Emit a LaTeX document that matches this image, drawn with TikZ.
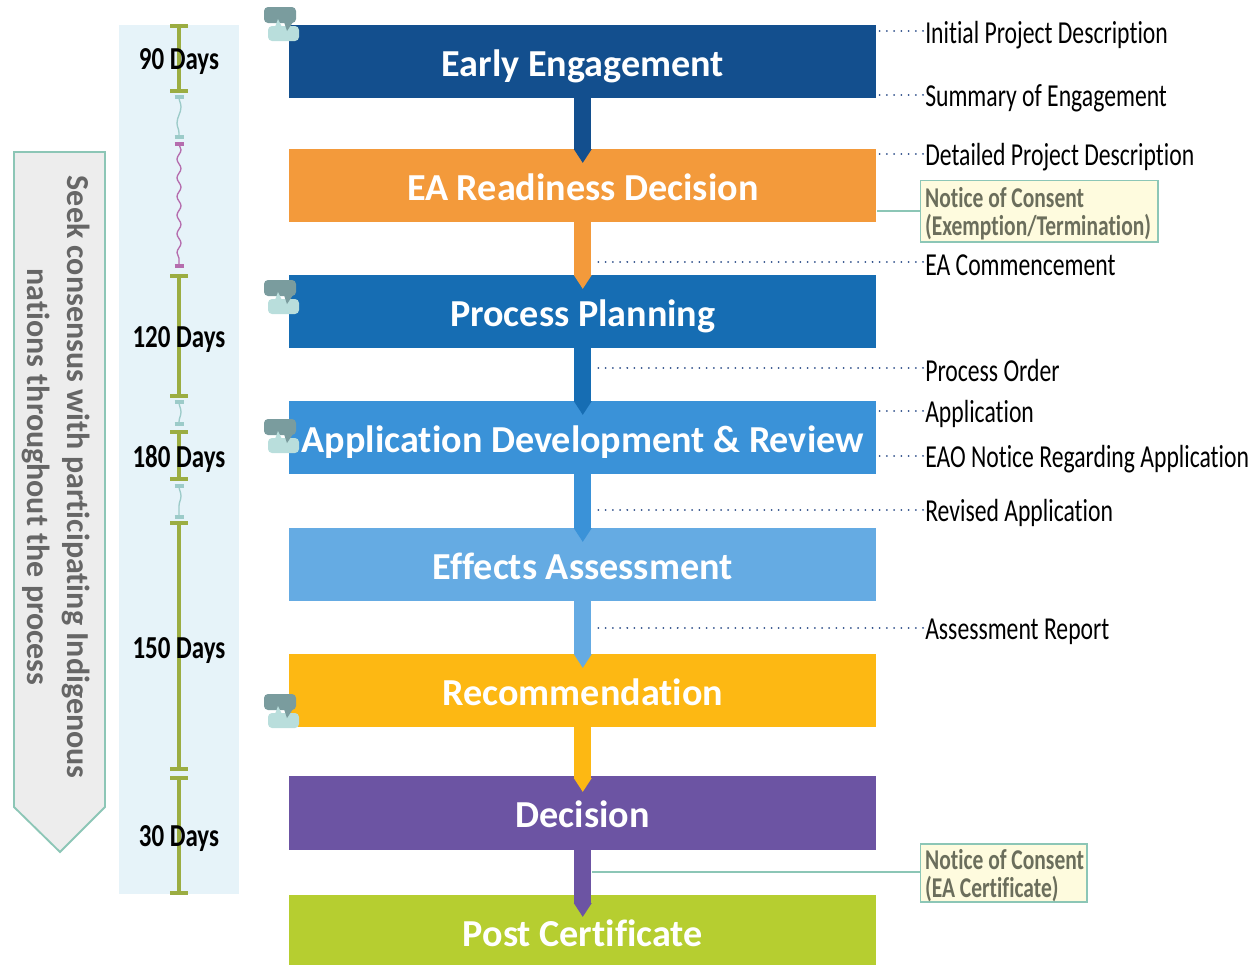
\documentclass[tikz,border=0pt]{standalone}
\usepackage{fontspec}
\setmainfont{Carlito}
\newfontface\labfont[FakeStretch=0.74,Ligatures=NoCommon]{Carlito}
\newfontface\labbold[FakeStretch=0.75,Ligatures=NoCommon]{Carlito Bold}
\newfontface\daysfont[FakeStretch=0.78]{Carlito Bold}
\newfontface\titlefont[Ligatures=NoCommon]{Carlito Bold}
\usetikzlibrary{arrows.meta,decorations.pathmorphing,calc}
\definecolor{cEarly}{HTML}{134F8E}
\definecolor{cReady}{HTML}{F39A3B}
\definecolor{cPlan}{HTML}{166DB3}
\definecolor{cApp}{HTML}{3A92D8}
\definecolor{cEff}{HTML}{65ABE3}
\definecolor{cRec}{HTML}{FDB813}
\definecolor{cDec}{HTML}{6C54A3}
\definecolor{cPost}{HTML}{B6CE30}
\definecolor{cPanel}{HTML}{E6F3F9}
\definecolor{cGreen}{HTML}{9BAD42}
\definecolor{cTeal}{HTML}{9CCBC9}
\definecolor{cPurple}{HTML}{B56DAE}
\definecolor{cEdge}{HTML}{8CC6B6}
\definecolor{cDot}{HTML}{2F4F8A}
\definecolor{cNote}{HTML}{FEFBDE}
\definecolor{cNoteText}{HTML}{6B6E5C}
\definecolor{cBubD}{HTML}{7A9C9E}
\definecolor{cBubL}{HTML}{B9DEDC}
\tikzset{
  x=0.75pt,y=-0.75pt,
  stage/.style={fill=#1,minimum width=440.25pt,inner sep=0pt,anchor=north west,text=white,
    text height=22pt,text depth=0.2pt,font=\titlefont\fontsize{28.6}{30}\selectfont},
  flow/.style={draw=#1,line width=12.75pt,-{Triangle[length=10.5pt,width=12.75pt]}},
  lab/.style={anchor=west,inner sep=0pt,text=black,font=\labfont\fontsize{24}{26}\selectfont},
  dots/.style={draw=cDot,line width=1.5pt,line cap=round,dash pattern=on 0.01pt off 5.4pt},
  note/.style={draw=cEdge,line width=1.4pt,fill=cNote,anchor=north west,inner sep=0pt,text=cNoteText,
    align=left,font=\labbold\fontsize{21.5}{21}\selectfont},
  noteline/.style={draw=cEdge,line width=1.4pt},
  span/.style={draw=cGreen,line width=3pt},
  capg/.style={draw=cGreen,line width=3pt},
  days/.style={inner sep=0pt,text=black,font=\daysfont\fontsize{24}{26}\selectfont},
  wave/.style={draw=#1,line width=1pt,decorate,decoration={snake,amplitude=1.5pt,segment length=14pt}},
  wavelong/.style={draw=#1,line width=1pt,decorate,decoration={snake,amplitude=1.5pt,segment length=24pt}},
  wcap/.style={draw=#1,line width=2.6pt},
}
\newcommand{\gspan}[2]{%
  \draw[span] (179,#1) -- (179,#2);
  \draw[capg] (170,#1) -- (188,#1);
  \draw[capg] (170,#2) -- (188,#2);}
\newcommand{\wspan}[4]{%
  \draw[#4=#3] (179,#1) -- (179,#2);
  \draw[wcap=#3] (174.5,#1) -- (183.5,#1);
  \draw[wcap=#3] (174.5,#2) -- (183.5,#2);}
\newcommand{\bubbles}[2]{%
  \fill[cBubL,rounded corners=3pt] (#1+3,#2+18) rectangle (#1+34,#2+33);
  \fill[cBubD,rounded corners=3pt] (#1-1,#2-1) rectangle (#1+31,#2+15);
  \fill[cBubD] (#1+19,#2+14) -- (#1+22,#2+23) -- (#1+28,#2+14) -- cycle;
  \fill[cBubL] (#1+10,#2+19) -- (#1+13,#2+11) -- (#1+17,#2+19) -- cycle;}
\begin{document}
\begin{tikzpicture}
\useasboundingbox (0,0) rectangle (1258,965);
% indigenous consensus chevron
\draw[draw=cEdge,line width=1.4pt,fill=black!7] (14,152) -- (105,152) -- (105,807) -- (60,852) -- (14,807) -- cycle;
\node[rotate=-90,inner sep=0pt,align=center,text=black!60,font=\titlefont\fontsize{24}{29.5}\selectfont] (seek) at (56,477)
  {Seek consensus with participating Indigenous\\nations throughout the process};
% timeline
\fill[cPanel] (119,25) rectangle (239,894);
\gspan{26}{91}
\wspan{97}{137}{cTeal}{wavelong}
\wspan{144}{266}{cPurple}{wave}
\gspan{276}{396}
\wspan{402}{424}{cTeal}{wavelong}
\gspan{432}{479}
\wspan{486}{517}{cTeal}{wavelong}
\gspan{523}{769}
\gspan{778}{893}
\node[days] (d90) at (179,62) {90 Days};
\node[days] (d120) at (179,340) {120 Days};
\node[days] (d180) at (179,459) {180 Days};
\node[days] (d150) at (179,651) {150 Days};
\node[days] (d30) at (179,839) {30 Days};
% stages
\node[stage=cEarly,minimum height=54.75pt] (early) at (289,25) {Early Engagement};
\node[stage=cReady,minimum height=54.75pt] (ready) at (289,149) {EA Readiness Decision};
\node[stage=cPlan,minimum height=54.75pt] (plan) at (289,275) {Process Planning};
\node[stage=cApp,minimum height=54.75pt] (app) at (289,401) {Application Development \& Review};
\node[stage=cEff,minimum height=54.75pt] (eff) at (289,528) {Effects Assessment};
\node[stage=cRec,minimum height=54.75pt] (rec) at (289,654) {Recommendation};
\node[stage=cDec,minimum height=55.5pt] (dec) at (289,776) {Decision};
\node[stage=cPost,minimum height=52.5pt,text height=24pt] (post) at (289,895) {Post Certificate};
% flow connectors
\draw[flow=cEarly] ($(early.south)+(0,-2)$) -- ($(ready.north)+(0,14)$);
\draw[flow=cReady] ($(ready.south)+(0,-2)$) -- ($(plan.north)+(0,14)$);
\draw[flow=cPlan] ($(plan.south)+(0,-2)$) -- ($(app.north)+(0,14)$);
\draw[flow=cApp] ($(app.south)+(0,-2)$) -- ($(eff.north)+(0,14)$);
\draw[flow=cEff] ($(eff.south)+(0,-2)$) -- ($(rec.north)+(0,14)$);
\draw[flow=cRec] ($(rec.south)+(0,-2)$) -- ($(dec.north)+(0,16)$);
\draw[flow=cDec] ($(dec.south)+(0,-2)$) -- ($(post.north)+(0,22)$);
% bubbles
\bubbles{265}{8}
\bubbles{265}{281}
\bubbles{265}{420}
\bubbles{265}{695}
% labels
\node[lab] (l1) at (925,35) {Initial Project Description};
\node[lab] (l2) at (925,98) {Summary of Engagement};
\node[lab] (l3) at (925,157) {Detailed Project Description};
\node[lab] (l4) at (925,265) {EA Commencement};
\node[lab] (l5) at (925,370) {Process Order};
\node[lab] (l6) at (925,414) {Application};
\node[lab] (l7) at (925,459) {EAO Notice Regarding Application};
\node[lab] (l8) at (925,513) {Revised Application};
\node[lab] (l9) at (925,632) {Assessment Report};
\coordinate (s4) at (592,0);
\draw[dots] ($(l1.west)+(-2,-4)$) -- ($(l1.west -| early.east)+(2,-4)$);
\draw[dots] ($(l2.west)+(-2,-3)$) -- ($(l2.west -| early.east)+(2,-3)$);
\draw[dots] ($(l3.west)+(-2,-3)$) -- ($(l3.west -| ready.east)+(2,-3)$);
\draw[dots] ($(l4.west)+(-2,-3)$) -- ($(l4.west -| s4)+(0,-3)$);
\draw[dots] ($(l5.west)+(-2,-2)$) -- ($(l5.west -| s4)+(0,-2)$);
\draw[dots] ($(l6.west)+(-2,-3)$) -- ($(l6.west -| app.east)+(2,-3)$);
\draw[dots] ($(l7.west)+(-2,-3)$) -- ($(l7.west -| app.east)+(2,-3)$);
\draw[dots] ($(l8.west)+(-2,-3)$) -- ($(l8.west -| s4)+(0,-3)$);
\draw[dots] ($(l9.west)+(-2,-4)$) -- ($(l9.west -| s4)+(0,-4)$);
% notes
\node[note,minimum height=46pt] (n1) at (919.5,179.5) {\makebox[178pt][l]{\rule{0pt}{19pt}\hspace*{3.5pt}Notice of Consent}\\\makebox[178pt][l]{\hspace*{3.5pt}(Exemption/Termination)}};
\node[note,minimum height=43.5pt] (n2) at (919.5,843) {\makebox[125pt][l]{\rule{0pt}{19pt}\hspace*{3.5pt}Notice of Consent}\\\makebox[125pt][l]{\hspace*{3.5pt}(EA Certificate)}};
\draw[noteline] (n1.west) -- (n1.west -| ready.east);
\draw[noteline] ($(n2.west)+(0,-1)$) -- ($(n2.west -| s4)+(0,-1)$);
\end{tikzpicture}
\end{document}
